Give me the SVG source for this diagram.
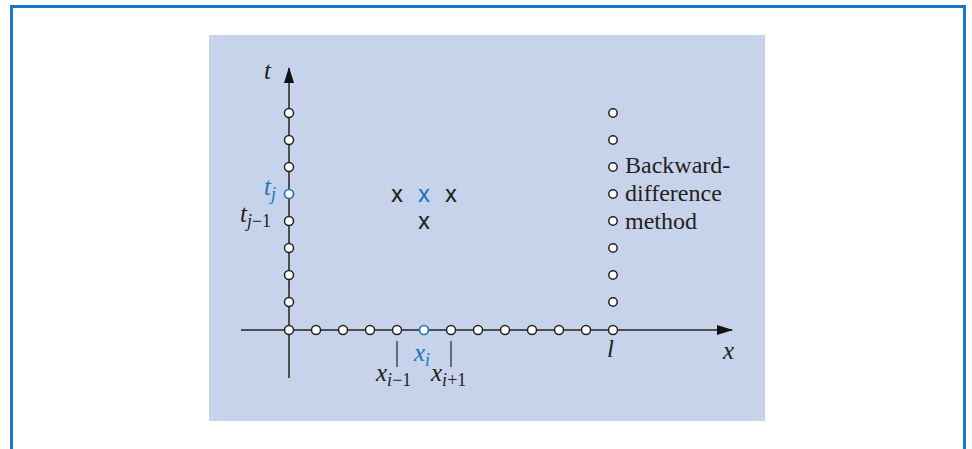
<svg xmlns="http://www.w3.org/2000/svg" width="972" height="449" viewBox="0 0 972 449">
<style>
.ax{stroke:#4d4d52;stroke-width:2;fill:none}
.tk{stroke:#333;stroke-width:1.3}
.pt{fill:#fff;stroke:#222;stroke-width:1.5}
.pb{fill:#fff;stroke:#1b75bc;stroke-width:1.7}
.m{font-family:"Liberation Serif",serif;font-style:italic;font-size:25px;fill:#231f20}
.s{font-family:"Liberation Serif",serif;font-size:18px;font-style:normal}
.si{font-family:"Liberation Serif",serif;font-style:italic;font-size:18px}
.blue{fill:#1b75bc}
.cr{font-family:"Liberation Sans",sans-serif;font-size:23px;fill:#231f20;stroke:#231f20;stroke-width:0.2;text-anchor:middle}
.crb{fill:#1b75bc;stroke:#1b75bc}
.lb{font-family:"Liberation Serif",serif;font-size:24px;fill:#231f20}
</style>
<defs>
<marker id="ah" viewBox="0 0 16 10" refX="15" refY="5" markerWidth="16" markerHeight="10" markerUnits="userSpaceOnUse" orient="auto">
<path d="M0,0 L16,5 L0,10 Z" fill="#111"/>
</marker>
</defs>
<rect x="11.5" y="6.5" width="953" height="460" fill="#fff" stroke="#1b75cf" stroke-width="3"/>
<rect id="panel" x="209" y="35" width="556" height="386" fill="#c7d3ea"/>
<g id="connectors">
<line class="ax" x1="289" y1="378" x2="289" y2="68" marker-end="url(#ah)"/>
<line class="ax" x1="241" y1="330" x2="732" y2="330" marker-end="url(#ah)"/>
<line class="tk" x1="397" y1="341" x2="397" y2="367"/>
<line class="tk" x1="451" y1="341" x2="451" y2="367"/>
</g>
<g id="t-axis-points">
<circle class="pt" cx="289" cy="113" r="4.5"/>
<circle class="pt" cx="289" cy="140" r="4.5"/>
<circle class="pt" cx="289" cy="167" r="4.5"/>
<circle class="pb" cx="289" cy="194" r="4.5"/>
<circle class="pt" cx="289" cy="221" r="4.5"/>
<circle class="pt" cx="289" cy="248" r="4.5"/>
<circle class="pt" cx="289" cy="275" r="4.5"/>
<circle class="pt" cx="289" cy="302" r="4.5"/>
</g>
<g id="x-axis-points">
<circle class="pt" cx="289" cy="330" r="4.5"/>
<circle class="pt" cx="316" cy="330" r="4.5"/>
<circle class="pt" cx="343" cy="330" r="4.5"/>
<circle class="pt" cx="370" cy="330" r="4.5"/>
<circle class="pt" cx="397" cy="330" r="4.5"/>
<circle class="pb" cx="424" cy="330" r="4.5"/>
<circle class="pt" cx="451" cy="330" r="4.5"/>
<circle class="pt" cx="478" cy="330" r="4.5"/>
<circle class="pt" cx="505" cy="330" r="4.5"/>
<circle class="pt" cx="532" cy="330" r="4.5"/>
<circle class="pt" cx="559" cy="330" r="4.5"/>
<circle class="pt" cx="586" cy="330" r="4.5"/>
<circle class="pt" cx="613" cy="330" r="4.5"/>
</g>
<g id="boundary-points">
<circle class="pt" cx="613" cy="113" r="4.2"/>
<circle class="pt" cx="613" cy="140" r="4.2"/>
<circle class="pt" cx="613" cy="167" r="4.2"/>
<circle class="pt" cx="613" cy="194" r="4.2"/>
<circle class="pt" cx="613" cy="221" r="4.2"/>
<circle class="pt" cx="613" cy="248" r="4.2"/>
<circle class="pt" cx="613" cy="275" r="4.2"/>
<circle class="pt" cx="613" cy="302" r="4.2"/>
</g>
<g id="stencil">
<text class="cr" x="397" y="202">x</text>
<text class="cr crb" x="424" y="202">x</text>
<text class="cr" x="451" y="202">x</text>
<text class="cr" x="424" y="229">x</text>
</g>
<g id="labels">
<text class="m" x="264" y="79">t</text>
<text class="m" x="723" y="359">x</text>
<text class="m" x="607" y="357">l</text>
<text class="m blue" x="264" y="195">t<tspan class="si" dy="5">j</tspan></text>
<text class="m" x="240" y="222">t<tspan class="si" dy="5">j</tspan><tspan class="s">−1</tspan></text>
<text class="m blue" x="414" y="361">x<tspan class="si" dy="5">i</tspan></text>
<text class="m" x="376" y="381">x<tspan class="si" dy="5">i</tspan><tspan class="s">−1</tspan></text>
<text class="m" x="431" y="381">x<tspan class="si" dy="5">i</tspan><tspan class="s">+1</tspan></text>
</g>
<g id="method-label">
<text class="lb" x="625" y="173">Backward-</text>
<text class="lb" x="625" y="201">difference</text>
<text class="lb" x="625" y="229">method</text>
</g>
</svg>
